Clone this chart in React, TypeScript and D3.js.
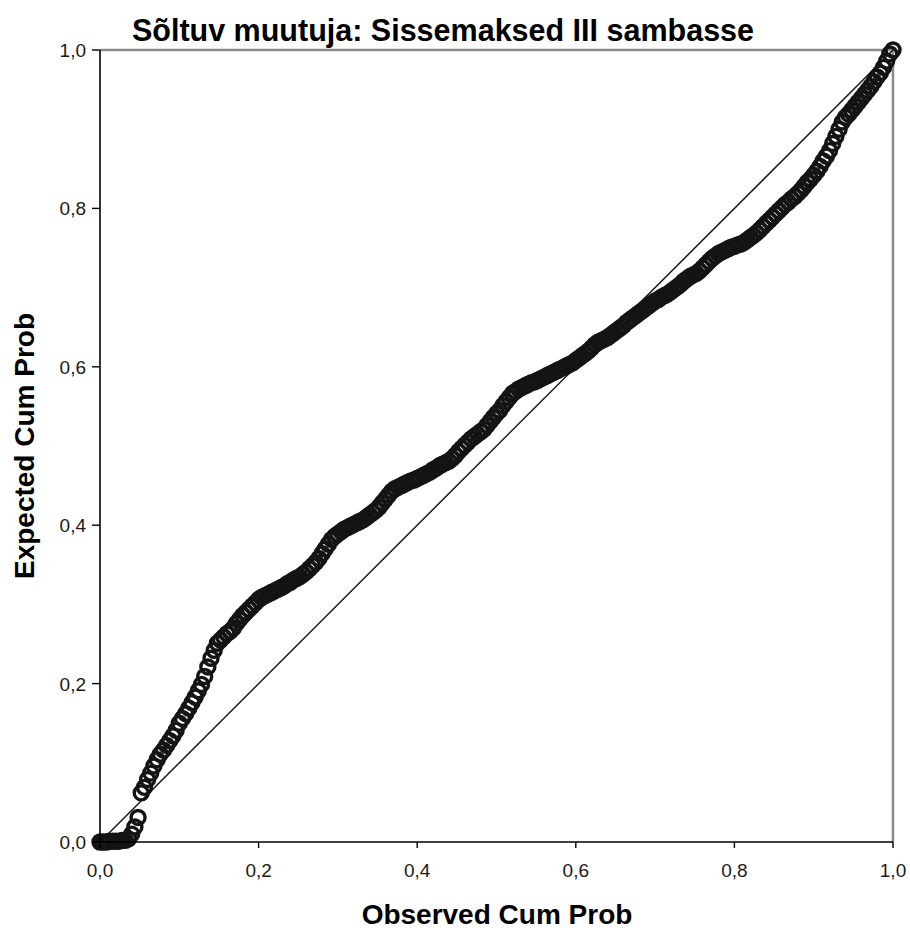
import React from "react";
import * as d3 from "d3";

// P-P plot of regression standardized residual
const chartTitle = "Sõltuv muutuja: Sissemaksed III sambasse";
const xLabel = "Observed Cum Prob";
const yLabel = "Expected Cum Prob";
const tickValues = [0, 0.2, 0.4, 0.6, 0.8, 1.0];

const observedCumProb = [
  0.000, 0.004, 0.008, 0.012, 0.016, 0.020, 0.024, 0.028, 0.032, 0.036,
  0.040, 0.044, 0.048, 0.052, 0.056, 0.060, 0.064, 0.068, 0.072, 0.076,
  0.080, 0.084, 0.088, 0.092, 0.096, 0.100, 0.104, 0.108, 0.112, 0.116,
  0.120, 0.124, 0.128, 0.132, 0.136, 0.140, 0.144, 0.148, 0.152, 0.156,
  0.160, 0.164, 0.168, 0.172, 0.176, 0.180, 0.184, 0.188, 0.192, 0.196,
  0.200, 0.204, 0.208, 0.212, 0.216, 0.220, 0.224, 0.228, 0.232, 0.236,
  0.240, 0.244, 0.248, 0.252, 0.256, 0.260, 0.264, 0.268, 0.272, 0.276,
  0.280, 0.284, 0.288, 0.292, 0.296, 0.300, 0.304, 0.308, 0.312, 0.316,
  0.320, 0.324, 0.328, 0.332, 0.336, 0.340, 0.344, 0.348, 0.352, 0.356,
  0.360, 0.364, 0.368, 0.372, 0.376, 0.380, 0.384, 0.388, 0.392, 0.396,
  0.400, 0.404, 0.408, 0.412, 0.416, 0.420, 0.424, 0.428, 0.432, 0.436,
  0.440, 0.444, 0.448, 0.452, 0.456, 0.460, 0.464, 0.468, 0.472, 0.476,
  0.480, 0.484, 0.488, 0.492, 0.496, 0.500, 0.504, 0.508, 0.512, 0.516,
  0.520, 0.524, 0.528, 0.532, 0.536, 0.540, 0.544, 0.548, 0.552, 0.556,
  0.560, 0.564, 0.568, 0.572, 0.576, 0.580, 0.584, 0.588, 0.592, 0.596,
  0.600, 0.604, 0.608, 0.612, 0.616, 0.620, 0.624, 0.628, 0.632, 0.636,
  0.640, 0.644, 0.648, 0.652, 0.656, 0.660, 0.664, 0.668, 0.672, 0.676,
  0.680, 0.684, 0.688, 0.692, 0.696, 0.700, 0.704, 0.708, 0.712, 0.716,
  0.720, 0.724, 0.728, 0.732, 0.736, 0.740, 0.744, 0.748, 0.752, 0.756,
  0.760, 0.764, 0.768, 0.772, 0.776, 0.780, 0.784, 0.788, 0.792, 0.796,
  0.800, 0.804, 0.808, 0.812, 0.816, 0.820, 0.824, 0.828, 0.832, 0.836,
  0.840, 0.844, 0.848, 0.852, 0.856, 0.860, 0.864, 0.868, 0.872, 0.876,
  0.880, 0.884, 0.888, 0.892, 0.896, 0.900, 0.904, 0.908, 0.912, 0.916,
  0.920, 0.924, 0.928, 0.932, 0.936, 0.940, 0.944, 0.948, 0.952, 0.956,
  0.960, 0.964, 0.968, 0.972, 0.976, 0.980, 0.984, 0.988, 0.992, 0.996,
  1.000,
];

const expectedCumProb = [
  0.000, 0.000, 0.000, 0.001, 0.001, 0.001, 0.001, 0.002, 0.002, 0.004,
  0.010, 0.019, 0.031, 0.062, 0.069, 0.079, 0.087, 0.096, 0.104, 0.111,
  0.116, 0.122, 0.128, 0.134, 0.141, 0.150, 0.156, 0.162, 0.169, 0.176,
  0.183, 0.191, 0.199, 0.209, 0.221, 0.232, 0.242, 0.251, 0.255, 0.259,
  0.263, 0.266, 0.270, 0.276, 0.281, 0.286, 0.290, 0.294, 0.298, 0.302,
  0.306, 0.309, 0.311, 0.313, 0.315, 0.317, 0.319, 0.321, 0.323, 0.326,
  0.328, 0.331, 0.333, 0.335, 0.338, 0.341, 0.345, 0.349, 0.353, 0.358,
  0.364, 0.370, 0.376, 0.382, 0.386, 0.389, 0.392, 0.395, 0.397, 0.399,
  0.401, 0.403, 0.405, 0.407, 0.410, 0.413, 0.416, 0.419, 0.423, 0.428,
  0.433, 0.438, 0.443, 0.446, 0.448, 0.450, 0.452, 0.454, 0.456, 0.457,
  0.459, 0.461, 0.463, 0.465, 0.467, 0.470, 0.472, 0.475, 0.477, 0.479,
  0.481, 0.484, 0.488, 0.493, 0.497, 0.501, 0.505, 0.509, 0.512, 0.515,
  0.518, 0.521, 0.526, 0.531, 0.536, 0.541, 0.545, 0.551, 0.556, 0.561,
  0.566, 0.569, 0.572, 0.574, 0.576, 0.578, 0.580, 0.581, 0.583, 0.585,
  0.587, 0.589, 0.591, 0.593, 0.595, 0.597, 0.599, 0.601, 0.603, 0.605,
  0.608, 0.611, 0.614, 0.617, 0.620, 0.624, 0.628, 0.631, 0.633, 0.635,
  0.637, 0.640, 0.643, 0.646, 0.649, 0.652, 0.656, 0.659, 0.662, 0.665,
  0.668, 0.671, 0.674, 0.677, 0.680, 0.683, 0.685, 0.688, 0.690, 0.692,
  0.695, 0.698, 0.701, 0.704, 0.708, 0.711, 0.714, 0.716, 0.718, 0.721,
  0.725, 0.729, 0.733, 0.737, 0.740, 0.743, 0.745, 0.747, 0.749, 0.751,
  0.752, 0.754, 0.755, 0.757, 0.760, 0.763, 0.766, 0.769, 0.773, 0.777,
  0.781, 0.785, 0.789, 0.793, 0.797, 0.801, 0.805, 0.808, 0.812, 0.815,
  0.819, 0.823, 0.828, 0.833, 0.837, 0.842, 0.847, 0.853, 0.860, 0.866,
  0.873, 0.882, 0.891, 0.900, 0.909, 0.915, 0.919, 0.924, 0.929, 0.934,
  0.939, 0.944, 0.949, 0.954, 0.960, 0.966, 0.971, 0.978, 0.986, 0.995,
  1.000,
];

const width = 910;
const height = 930;
const left = 100;
const right = 893;
const top = 50;
const bottom = 842;

const commaLocale = d3.formatLocale({
  decimal: ",",
  thousands: " ",
  grouping: [3],
  currency: ["", " €"],
});
const fmt = commaLocale.format(".1f");

export default function App() {
  const x = d3.scaleLinear().domain([0, 1]).range([left, right]);
  const y = d3.scaleLinear().domain([0, 1]).range([bottom, top]);
  const font = "Arial, 'Liberation Sans', sans-serif";

  return (
    <svg
      width={width}
      height={height}
      style={{ display: "block", position: "absolute", left: 0, top: 0 }}
    >
      <rect width={width} height={height} fill="#fff" />
      <text
        x={443}
        y={41}
        textAnchor="middle"
        style={{ fontFamily: font, fontSize: 30.5, fontWeight: "bold" }}
        fill="#000"
      >
        {chartTitle}
      </text>

      {/* frame */}
      <line x1={left} x2={right} y1={top} y2={top} stroke="#8c8c8c" strokeWidth={2.5} />
      <line x1={right} x2={right} y1={top} y2={bottom} stroke="#8c8c8c" strokeWidth={2.5} />

      {/* reference diagonal */}
      <line
        x1={x(0)}
        y1={y(0)}
        x2={x(1)}
        y2={y(1)}
        stroke="#1a1a1a"
        strokeWidth={1.5}
      />

      {observedCumProb.map((v, i) => (
        <circle
          key={i}
          cx={x(v)}
          cy={y(expectedCumProb[i])}
          r={7}
          fill="none"
          stroke="#141414"
          strokeWidth={3.4}
        />
      ))}

      {/* axes */}
      <line x1={left} x2={left} y1={top} y2={bottom + 6} stroke="#000" strokeWidth={1.6} />
      <line x1={left - 8} x2={right} y1={bottom} y2={bottom} stroke="#000" strokeWidth={1.6} />

      {tickValues.map((t) => (
        <g key={"x" + t}>
          <line x1={x(t)} x2={x(t)} y1={bottom} y2={bottom + 6} stroke="#000" strokeWidth={1.4} />
          <text
            x={x(t)}
            y={877}
            textAnchor="middle"
            style={{ fontFamily: font, fontSize: 19 }}
            fill="#1a1a1a"
          >
            {fmt(t)}
          </text>
        </g>
      ))}
      {tickValues.map((t) => (
        <g key={"y" + t}>
          <line x1={left - 8} x2={left} y1={y(t)} y2={y(t)} stroke="#000" strokeWidth={1.4} />
          <text
            x={86}
            y={y(t) + 7}
            textAnchor="end"
            style={{ fontFamily: font, fontSize: 19 }}
            fill="#1a1a1a"
          >
            {fmt(t)}
          </text>
        </g>
      ))}

      <text
        x={497}
        y={924}
        textAnchor="middle"
        style={{ fontFamily: font, fontSize: 28, fontWeight: "bold" }}
        fill="#000"
      >
        {xLabel}
      </text>
      <text
        transform={`translate(34, ${(top + bottom) / 2}) rotate(-90)`}
        textAnchor="middle"
        style={{ fontFamily: font, fontSize: 28, fontWeight: "bold" }}
        fill="#000"
      >
        {yLabel}
      </text>
    </svg>
  );
}
